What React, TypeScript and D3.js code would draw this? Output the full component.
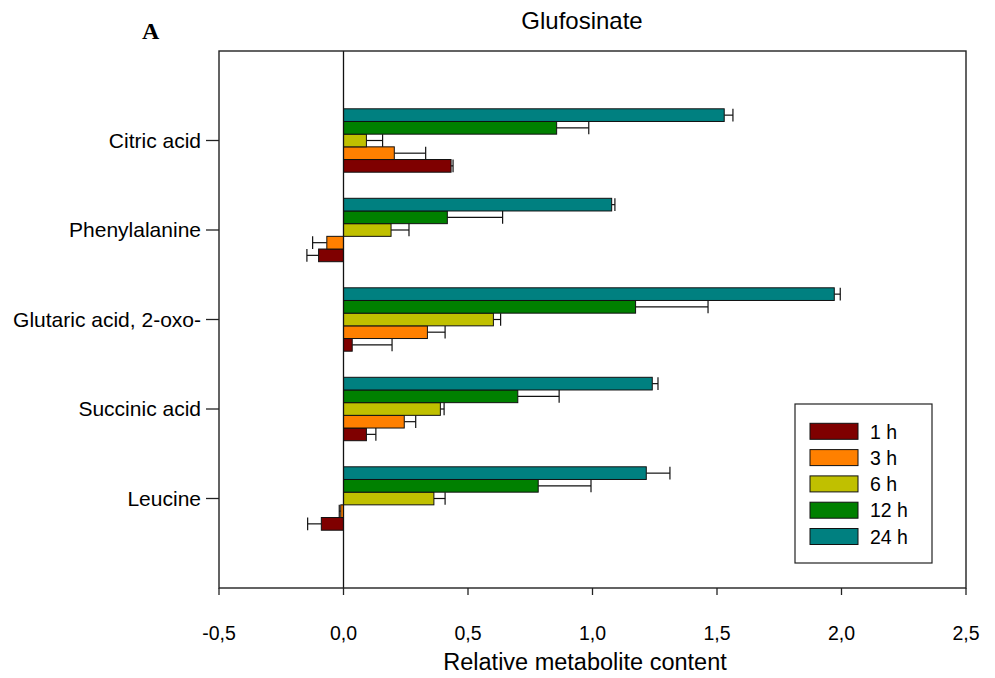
import * as d3 from "d3";

const categories = ["Citric acid", "Phenylalanine", "Glutaric acid, 2-oxo-", "Succinic acid", "Leucine"];
const seriesNames = ["1 h", "3 h", "6 h", "12 h", "24 h"];
const seriesColors = ["#7f0000", "#ff8000", "#c0c000", "#008000", "#008080"];

// values per series, in category order
const values1h = [0.432, -0.1, 0.035, 0.092, -0.089];
const values3h = [0.204, -0.067, 0.337, 0.244, -0.011];
const values6h = [0.092, 0.191, 0.602, 0.389, 0.363];
const values12h = [0.856, 0.417, 1.173, 0.7, 0.782];
const values24h = [1.529, 1.077, 1.971, 1.24, 1.216];

const errors1h = [0.008, 0.047, 0.16, 0.038, 0.055];
const errors3h = [0.126, 0.057, 0.071, 0.046, 0.006];
const errors6h = [0.065, 0.072, 0.029, 0.015, 0.045];
const errors12h = [0.129, 0.222, 0.291, 0.166, 0.212];
const errors24h = [0.035, 0.013, 0.024, 0.023, 0.095];

const xTicks = [-0.5, 0, 0.5, 1, 1.5, 2, 2.5];

const allValues = [values1h, values3h, values6h, values12h, values24h];
const allErrors = [errors1h, errors3h, errors6h, errors12h, errors24h];

export default function App() {
    const W = 995;
    const H = 678;
    const frame = { left: 219, right: 966, top: 51, bottom: 588 };
    const font = "'Liberation Sans', Arial, Helvetica, sans-serif";

    const x = d3.scaleLinear([-0.5, 2.5], [frame.left, frame.right]);
    const y = d3.scalePoint(categories, [frame.top, frame.bottom]).padding(1);
    // bars inside a group: 24 h on top, 1 h at the bottom
    const inner = d3.scaleBand([...seriesNames].reverse(), [-31.7, 31.7]);
    const barH = inner.bandwidth();
    const fmt = (v: number) => d3.format(".1f")(v).replace(".", ",").replace("\u2212", "-");

    const legend = { x: 795, y: 404, w: 137, h: 159 };

    return (
        <svg width={W} height={H} style={{ position: "absolute", left: 0, top: 0, background: "#fff" }} fontFamily={font}>
            <text x={142} y={39} fontFamily="'Liberation Serif', 'Times New Roman', serif" fontWeight="bold" fontSize={24}>A</text>
            <text x={582} y={29} textAnchor="middle" fontSize={24}>Glufosinate</text>

            {/* bars */}
            {seriesNames.map((name, si) => (
                <g key={name}>
                    {categories.map((cat, ci) => {
                        const v = allValues[si][ci];
                        const e = allErrors[si][ci];
                        const yTop = y(cat)! + inner(name)!;
                        const yMid = yTop + barH / 2;
                        const xe = x(v + Math.sign(v) * e);
                        return (
                            <g key={cat}>
                                <line x1={x(v)} x2={xe} y1={yMid} y2={yMid} stroke="#111" strokeWidth={1.2} />
                                <line x1={xe} x2={xe} y1={yTop} y2={yTop + barH} stroke="#111" strokeWidth={1.2} />
                                <rect
                                    x={Math.min(x(0), x(v))}
                                    y={yTop}
                                    width={Math.abs(x(v) - x(0))}
                                    height={barH}
                                    fill={seriesColors[si]}
                                    stroke="#111"
                                    strokeWidth={1}
                                />
                            </g>
                        );
                    })}
                </g>
            ))}

            {/* zero line and frame */}
            <line x1={x(0)} x2={x(0)} y1={frame.top} y2={frame.bottom} stroke="#111" strokeWidth={1.3} />
            <rect x={frame.left} y={frame.top} width={frame.right - frame.left} height={frame.bottom - frame.top} fill="none" stroke="#222" strokeWidth={1.4} />

            {/* y axis */}
            {categories.map(cat => (
                <g key={cat}>
                    <line x1={frame.left - 13} x2={frame.left} y1={y(cat)} y2={y(cat)} stroke="#222" strokeWidth={1.3} />
                    <text x={201} y={y(cat)! + 7} textAnchor="end" fontSize={21}>{cat}</text>
                </g>
            ))}

            {/* x axis */}
            {xTicks.map(t => (
                <g key={t}>
                    <line x1={x(t)} x2={x(t)} y1={frame.bottom} y2={frame.bottom + 7} stroke="#222" strokeWidth={1.3} />
                    <text x={x(t)} y={640} textAnchor="middle" fontSize={19.5}>{fmt(t)}</text>
                </g>
            ))}
            <text x={585} y={670} textAnchor="middle" fontSize={23.5}>Relative metabolite content</text>

            {/* legend */}
            <rect x={legend.x} y={legend.y} width={legend.w} height={legend.h} fill="#fff" stroke="#222" strokeWidth={1.2} />
            {seriesNames.map((name, i) => (
                <g key={name}>
                    <rect x={810} y={423.3 + i * 26.3} width={48} height={16} fill={seriesColors[i]} stroke="#111" strokeWidth={1} />
                    <text x={870} y={438.5 + i * 26.3} fontSize={19.5}>{name}</text>
                </g>
            ))}
        </svg>
    );
}
